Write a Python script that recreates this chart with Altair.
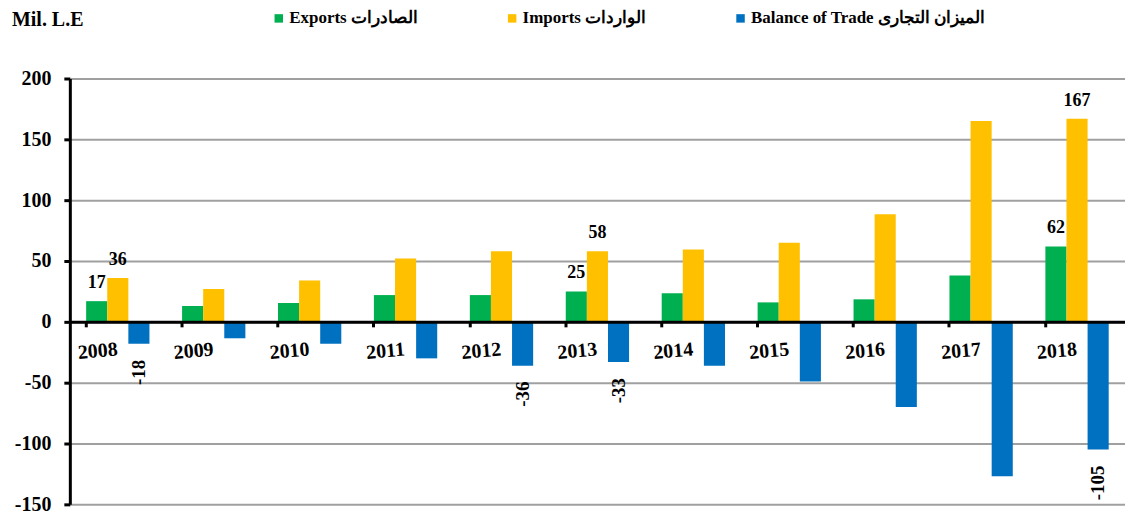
import altair as alt
import pandas as pd

years = ["2008", "2009", "2010", "2011", "2012", "2013", "2014", "2015", "2016", "2017", "2018"]
exports = [17, 13, 15.5, 22, 22, 25, 23.5, 16, 18.5, 38, 62]
imports = [36, 27, 34, 52, 58, 58, 59.5, 65, 88.5, 165, 167]
balance = [-18, -13.5, -18, -30, -36, -33, -36, -49, -70, -127, -105]

series_names = ["Exports الصادرات", "Imports الواردات", "Balance of Trade الميزان التجارى"]
series_colors = ["#00B050", "#FFC000", "#0070C0"]

labeled_exports = ["2008", "2013", "2018"]
labeled_imports = ["2008", "2013", "2018"]
labeled_balance = ["2008", "2012", "2013", "2018"]

y_ticks = [-150, -100, -50, 0, 50, 100, 150, 200]
unit_title = "Mil. L.E"

rows = []
for name, vals, lab in zip(series_names, [exports, imports, balance],
                           [labeled_exports, labeled_imports, labeled_balance]):
    for yr, v in zip(years, vals):
        rows.append({"year": yr, "series": name, "value": v,
                     "label": str(int(round(v))) if yr in lab else ""})
df = pd.DataFrame(rows)

FONT = "Liberation Serif"

x_enc = alt.X("year:N", sort=years,
              scale=alt.Scale(paddingInner=0.34, paddingOuter=0.17),
              axis=alt.Axis(title=None, orient="bottom", offset=-183,
                            domainColor="black", domainWidth=3,
                            tickColor="black", tickWidth=3, tickSize=5,
                            bandPosition=0, labelOffset=-21,
                            labelAngle=355, labelAlign="center",
                            labelPadding=14, labelBaseline="top",
                            labelFont=FONT, labelFontSize=20, labelFontWeight="bold",
                            labelColor="black", grid=False, zindex=1))
xo = alt.XOffset("series:N", sort=series_names, scale=alt.Scale(domain=series_names))
y_enc = alt.Y("value:Q",
              scale=alt.Scale(domain=[-150, 200], nice=False, zero=True),
              axis=alt.Axis(title=None, values=y_ticks,
                            labelExpr="'' + datum.value",
                            labelFont=FONT, labelFontSize=20, labelFontWeight="bold",
                            labelColor="black", labelPadding=13,
                            domainColor="black", domainWidth=3,
                            tickColor="black", tickWidth=3, tickSize=6,
                            gridColor="#A0A0A0", gridWidth=2))

color_enc = alt.Color("series:N", sort=series_names,
                      scale=alt.Scale(domain=series_names, range=series_colors),
                      legend=alt.Legend(title=None, orient="none", direction="horizontal",
                                        columns=3, legendX=201, legendY=-69,
                                        symbolType="square", symbolSize=72,
                                        symbolStrokeWidth=0, symbolOpacity=1,
                                        labelFont=FONT, labelFontSize=17,
                                        labelFontWeight="bold", labelColor="black",
                                        labelOffset=2, columnPadding=86,
                                        labelLimit=400))

base = alt.Chart(df)

bars = base.mark_bar().encode(x=x_enc, xOffset=xo, y=y_enc, color=color_enc)

pos_labels = base.transform_filter(
    (alt.datum.label != "") & (alt.datum.value > 0)
).mark_text(baseline="alphabetic", dy=-13, font=FONT, fontSize=18,
            fontWeight="bold", color="black").encode(
    x=alt.X("year:N", sort=years), xOffset=xo, y="value:Q", text="label:N")

neg_labels = base.transform_filter(
    (alt.datum.label != "") & (alt.datum.value < 0)
).mark_text(angle=270, align="right", baseline="middle", dx=-16, font=FONT,
            fontSize=19, fontWeight="bold", color="black").encode(
    x=alt.X("year:N", sort=years), xOffset=xo, y="value:Q", text="label:N")

title_text = alt.Chart(pd.DataFrame({"t": [unit_title]})).mark_text(
    align="left", baseline="alphabetic", font=FONT, fontSize=20,
    fontWeight="bold", color="black").encode(
    x=alt.value(-58), y=alt.value(-53), text="t:N")

chart = alt.layer(bars, pos_labels, neg_labels, title_text).properties(
    width=1058, height=427,
    autosize=alt.AutoSizeParams(type="none"),
    padding={"left": 62, "top": 70, "right": 0, "bottom": 14},
).configure_view(stroke=None)

chart.save("out.html", embed_options={"renderer": "svg", "actions": False})
